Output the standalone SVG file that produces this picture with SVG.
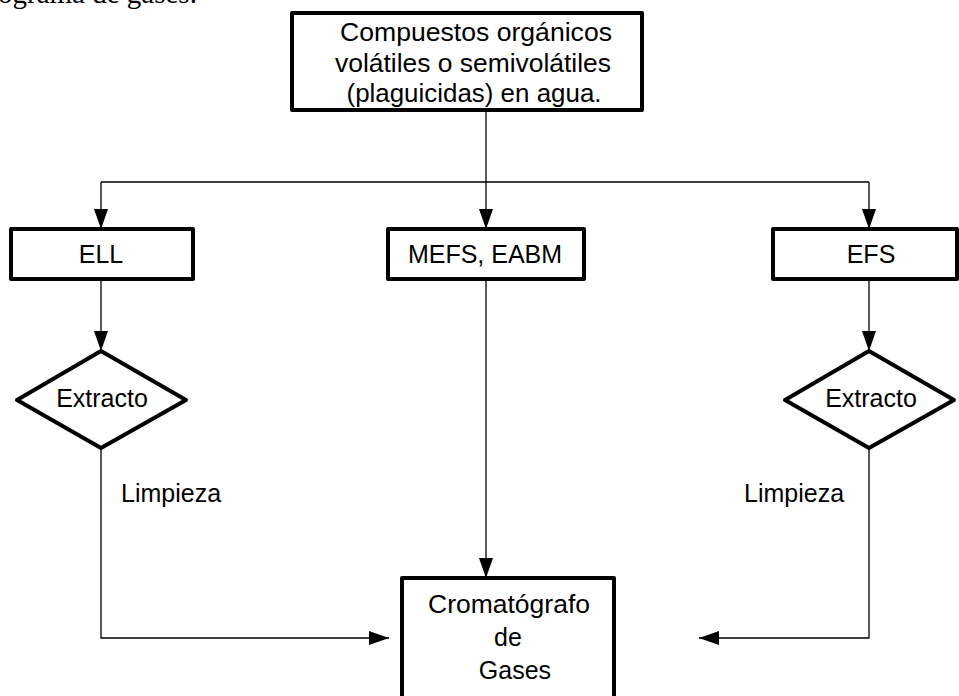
<svg xmlns="http://www.w3.org/2000/svg" width="959" height="696" viewBox="0 0 959 696">
<style>
.box{fill:#fff;stroke:#000;stroke-width:4;stroke-linejoin:round}
.t{font-family:"Liberation Sans",Arial,sans-serif;font-size:25px;fill:#000;text-anchor:middle}
.tl{font-family:"Liberation Sans",Arial,sans-serif;font-size:25px;fill:#000}
.ln{fill:none;stroke:#000;stroke-width:1.3}
</style>
<defs>
<marker id="ah" viewBox="0 0 20 14" refX="20" refY="7" markerWidth="20" markerHeight="14" markerUnits="userSpaceOnUse" orient="auto">
<path d="M0,0 L20,7 L0,14 Z" fill="#000"/>
</marker>
</defs>
<rect width="959" height="696" fill="#fff"/>
<text x="-2" y="3" style="font-family:'Liberation Serif','Times New Roman',serif;font-size:29px">ograma de gases.</text>
<g id="connectors">
<line class="ln" x1="486" y1="110" x2="486" y2="229" marker-end="url(#ah)"/>
<path class="ln" d="M101,182 H869"/>
<line class="ln" x1="101" y1="182" x2="101" y2="229" marker-end="url(#ah)"/>
<line class="ln" x1="869" y1="182" x2="869" y2="229" marker-end="url(#ah)"/>
<line class="ln" x1="101" y1="279" x2="101" y2="351" marker-end="url(#ah)"/>
<line class="ln" x1="869" y1="279" x2="869" y2="351" marker-end="url(#ah)"/>
<line class="ln" x1="486" y1="279" x2="486" y2="578" marker-end="url(#ah)"/>
<path class="ln" d="M101,448 V638 H389" marker-end="url(#ah)"/>
<path class="ln" d="M869,448 V638 H699" marker-end="url(#ah)"/>
</g>
<g id="n-top">
<rect class="box" x="292" y="13" width="350" height="97"/>
<text class="t" x="476" y="41" textLength="272" lengthAdjust="spacingAndGlyphs">Compuestos orgánicos</text>
<text class="t" x="473" y="72" textLength="276" lengthAdjust="spacingAndGlyphs">volátiles o semivolátiles</text>
<text class="t" x="474" y="102" textLength="255" lengthAdjust="spacingAndGlyphs">(plaguicidas) en agua.</text>
</g>
<g id="n-ell">
<rect class="box" x="11" y="229" width="182" height="50"/>
<text class="t" x="101" y="263">ELL</text>
</g>
<g id="n-mefs">
<rect class="box" x="388" y="229" width="196" height="50"/>
<text class="t" x="485" y="263">MEFS, EABM</text>
</g>
<g id="n-efs">
<rect class="box" x="773" y="229" width="184" height="50"/>
<text class="t" x="871" y="263">EFS</text>
</g>
<g id="n-ext1">
<polygon class="box" points="101,351 186,400 101,448 17,400"/>
<text class="t" x="102" y="407">Extracto</text>
</g>
<g id="n-ext2">
<polygon class="box" points="869,351 954,400 869,448 785,400"/>
<text class="t" x="871" y="407">Extracto</text>
</g>
<g id="n-limp1">
<text class="tl" x="121" y="502">Limpieza</text>
</g>
<g id="n-limp2">
<text class="tl" x="744" y="502">Limpieza</text>
</g>
<g id="n-crom">
<rect class="box" x="402" y="578" width="212" height="130"/>
<text class="t" x="509" y="613" textLength="162" lengthAdjust="spacingAndGlyphs">Cromatógrafo</text>
<text class="t" x="508" y="646">de</text>
<text class="t" x="515" y="679">Gases</text>
</g>
</svg>
